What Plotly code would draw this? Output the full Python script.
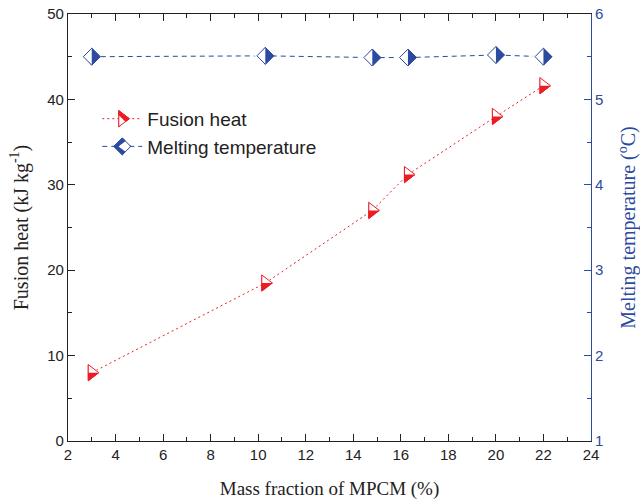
import plotly.graph_objects as go

# ---- data ----
mass_fraction = [3, 10.3, 14.8, 16.3, 20, 22]
fusion_heat = [8.0, 18.5, 27.0, 31.2, 38.0, 41.6]
melting_temp = [5.50, 5.51, 5.49, 5.49, 5.52, 5.50]

x_ticks = [2, 4, 6, 8, 10, 12, 14, 16, 18, 20, 22, 24]
y1_ticks = [0, 10, 20, 30, 40, 50]
y2_ticks = [1, 2, 3, 4, 5, 6]

RED = "rgb(237,28,36)"
BLUE = "rgb(43,74,160)"
SANS = "Liberation Sans, Arial, sans-serif"
SERIF = "Liberation Serif, Times New Roman, serif"

fig = go.Figure()

# Fusion heat: filled triangle, white upper-half overlay, outline on top
fig.add_trace(go.Scatter(
    x=mass_fraction, y=fusion_heat, name="Fusion heat", mode="lines+markers",
    line=dict(color=RED, width=1, dash="2px,3px"),
    marker=dict(symbol="triangle-right", size=14, color=RED,
                line=dict(color=RED, width=1)),
    legend="legend"))
fig.add_trace(go.Scatter(
    x=mass_fraction, y=fusion_heat, name="Fusion heat", mode="markers",
    marker=dict(symbol="triangle-ne", size=12.4, angle=180, standoff=3.72,
                color="white", line=dict(width=0)),
    legend="legend2", hoverinfo="skip"))
fig.add_trace(go.Scatter(
    x=mass_fraction, y=fusion_heat, name="Fusion heat", mode="markers",
    marker=dict(symbol="triangle-right-open", size=14, color=RED,
                line=dict(color=RED, width=1)),
    legend="legend3", hoverinfo="skip"))

# Melting temperature: filled diamond, white left-half overlay, outline on top
fig.add_trace(go.Scatter(
    x=mass_fraction, y=melting_temp, name="Melting temperature", mode="lines+markers",
    yaxis="y2",
    line=dict(color=BLUE, width=1, dash="5px,4px"),
    marker=dict(symbol="diamond", size=13, color=BLUE,
                line=dict(color=BLUE, width=1)),
    legend="legend"))
fig.add_trace(go.Scatter(
    x=mass_fraction, y=melting_temp, name="Melting temperature", mode="markers",
    yaxis="y2",
    marker=dict(symbol="triangle-down", size=15, angle=90, standoff=3.75,
                color="white", line=dict(width=0)),
    legend="legend2", hoverinfo="skip"))
fig.add_trace(go.Scatter(
    x=mass_fraction, y=melting_temp, name="Melting temperature", mode="markers",
    yaxis="y2",
    marker=dict(symbol="diamond-open", size=13, color=BLUE,
                line=dict(color=BLUE, width=1)),
    legend="legend3", hoverinfo="skip"))

leg_common = dict(x=0.056, y=0.799, xanchor="left", yanchor="top", itemwidth=40,
                  bgcolor="rgba(0,0,0,0)", borderwidth=0, tracegroupgap=0)
fig.update_layout(
    width=640, height=500,
    margin=dict(l=68, r=49, t=14, b=59, autoexpand=False),
    plot_bgcolor="white", paper_bgcolor="white",
    legend=dict(**leg_common, font=dict(family=SANS, size=19, color="#222")),
    legend2=dict(**leg_common, font=dict(family=SANS, size=19, color="rgba(0,0,0,0)")),
    legend3=dict(**leg_common, font=dict(family=SANS, size=19, color="rgba(0,0,0,0)")),
    xaxis=dict(
        range=[2, 24], tickvals=x_ticks, ticktext=[str(v) for v in x_ticks],
        showline=True, linecolor="#222", linewidth=1.2, mirror="ticks",
        ticks="inside", ticklen=7, tickwidth=1, tickcolor="#222",
        minor=dict(ticks="inside", ticklen=4, dtick=1, tickwidth=1, tickcolor="#222", showgrid=False),
        showgrid=False, zeroline=False, automargin=False, ticklabeloverflow="allow",
        tickfont=dict(family=SANS, size=15, color="#222"),
        title=dict(text="Mass fraction of MPCM (%)",
                   font=dict(family=SERIF, size=19, color="#222"), standoff=20),
    ),
    yaxis=dict(
        range=[0, 50], tickvals=y1_ticks, ticktext=[str(v) for v in y1_ticks],
        showline=True, linecolor="#222", linewidth=1.2,
        ticks="inside", ticklen=7, tickwidth=1, tickcolor="#222",
        minor=dict(ticks="inside", ticklen=4, dtick=5, tickwidth=1, tickcolor="#222", showgrid=False),
        showgrid=False, zeroline=False, automargin=False, ticklabeloverflow="allow",
        tickfont=dict(family=SANS, size=15, color="#222"),
        title=dict(text="Fusion heat (kJ kg<sup>-1</sup>)",
                   font=dict(family=SERIF, size=20, color="#222"), standoff=13),
    ),
    yaxis2=dict(
        range=[1, 6], tickvals=y2_ticks, ticktext=[str(v) for v in y2_ticks],
        overlaying="y", side="right",
        showline=True, linecolor=BLUE, linewidth=1.2,
        ticks="inside", ticklen=7, tickwidth=1, tickcolor=BLUE,
        minor=dict(ticks="inside", ticklen=4, dtick=0.5, tickwidth=1, tickcolor=BLUE, showgrid=False),
        showgrid=False, zeroline=False, automargin=False, ticklabeloverflow="allow",
        tickfont=dict(family=SANS, size=15, color=BLUE),
        title=dict(text="Melting temperature (<sup>o</sup>C)",
                   font=dict(family=SERIF, size=20, color=BLUE), standoff=18),
    ),
)

fig.write_html("out.html", config={"displayModeBar": False},
               post_script="document.body.style.margin='0px';")
